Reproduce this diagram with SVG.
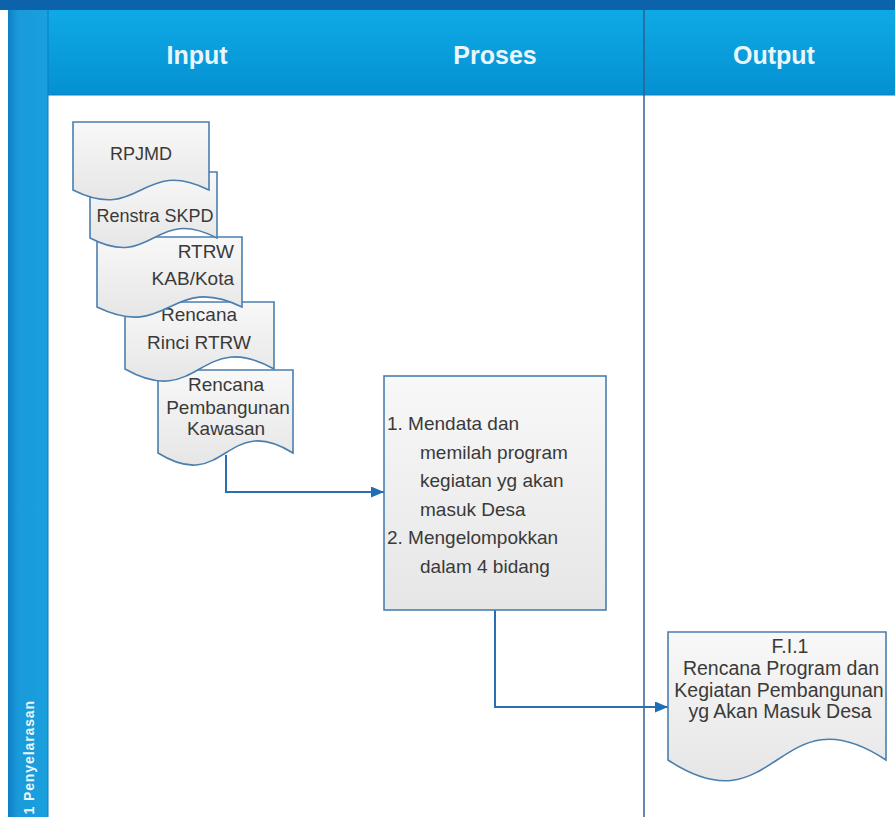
<svg xmlns="http://www.w3.org/2000/svg" width="895" height="817" viewBox="0 0 895 817">
  <defs>
    <linearGradient id="hdr" x1="0" y1="0" x2="0" y2="1">
      <stop offset="0" stop-color="#0eaae6"/>
      <stop offset="1" stop-color="#0590d2"/>
    </linearGradient>
    <linearGradient id="band" x1="0" y1="0" x2="1" y2="0">
      <stop offset="0" stop-color="#0f7fc4"/>
      <stop offset="0.25" stop-color="#1a9ada"/>
      <stop offset="1" stop-color="#1aa0de"/>
    </linearGradient>
    <linearGradient id="paper" x1="0" y1="0" x2="0" y2="1">
      <stop offset="0" stop-color="#f8f8f8"/>
      <stop offset="1" stop-color="#e6e6e6"/>
    </linearGradient>
    <marker id="arrow" markerUnits="userSpaceOnUse" markerWidth="13" markerHeight="11" refX="13" refY="5.5" orient="auto">
      <path d="M0,0 L13,5.5 L0,11 Z" fill="#1f6db3"/>
    </marker>
    <style>
      .shape { fill: url(#paper); stroke: #4b7fae; stroke-width: 1.6; }
      .txt { font-family: "Liberation Sans", Arial, sans-serif; fill: #3a3a3a; }
      .hd { font-family: "Liberation Sans", Arial, sans-serif; font-weight: bold; font-size: 25px; fill: #e9f6fc; text-anchor: middle; }
      .conn { fill: none; stroke: #2a6fb0; stroke-width: 2; }
    </style>
  </defs>

  <!-- swimlane frame -->
  <g id="frame">
    <rect x="0" y="0" width="895" height="817" fill="#ffffff"/>
    <rect x="0" y="0" width="895" height="10" fill="#0c62ab"/>
    <rect x="48" y="10" width="847" height="85" fill="url(#hdr)"/>
    <line x1="48" y1="95" x2="895" y2="95" stroke="#0a80c2" stroke-width="1"/>
    <rect x="8" y="10" width="40" height="807" fill="url(#band)"/>
    <line x1="48" y1="10" x2="48" y2="817" stroke="#0b7cc0" stroke-width="1"/>
    <line x1="644" y1="10" x2="644" y2="817" stroke="#2f5f92" stroke-width="1.5"/>
    <text class="hd" x="197" y="64">Input</text>
    <text class="hd" x="495" y="64">Proses</text>
    <text class="hd" x="774" y="64">Output</text>
    <text transform="translate(34,700) rotate(-90)" text-anchor="end" font-family="Liberation Sans, Arial, sans-serif" font-weight="bold" font-size="14" letter-spacing="0.9" fill="#e9f6fc">1 Penyelarasan</text>
  </g>

  <!-- connectors -->
  <g id="connectors">
    <path class="conn" d="M226,455 V492 H384" marker-end="url(#arrow)"/>
    <path class="conn" d="M495,610 V707 H668" marker-end="url(#arrow)"/>
  </g>

  <!-- input documents, stacked: lower ones first -->
  <g id="doc-kawasan">
    <path class="shape" d="M158,370 H293 V453 C225.5,411 225.5,495 158,453 Z"/>
    <text class="txt" font-size="19" text-anchor="middle" x="226" y="391">Rencana</text>
    <text class="txt" font-size="19" text-anchor="middle" x="228" y="414">Pembangunan</text>
    <text class="txt" font-size="19" text-anchor="middle" x="226" y="435">Kawasan</text>
  </g>
  <g id="doc-rinci">
    <path class="shape" d="M125,302 H274 V369 C199.5,327 199.5,411 125,369 Z"/>
    <text class="txt" font-size="19" text-anchor="middle" x="199" y="321">Rencana</text>
    <text class="txt" font-size="19" text-anchor="middle" x="199" y="349">Rinci RTRW</text>
  </g>
  <g id="doc-rtrw">
    <path class="shape" d="M97,237 H242 V307 C169.5,272 169.5,342 97,307 Z"/>
    <text class="txt" font-size="19" text-anchor="end" x="234" y="258">RTRW</text>
    <text class="txt" font-size="19" text-anchor="end" x="234" y="285">KAB/Kota</text>
  </g>
  <g id="doc-renstra">
    <path class="shape" d="M90,172 H217 V238 C153.5,205 153.5,271 90,238 Z"/>
    <text class="txt" font-size="18" text-anchor="middle" x="155" y="222">Renstra SKPD</text>
  </g>
  <g id="doc-rpjmd">
    <path class="shape" d="M73,122 H209 V190 C141,156 141,224 73,190 Z"/>
    <text class="txt" font-size="18" text-anchor="middle" x="141" y="160">RPJMD</text>
  </g>

  <!-- process -->
  <g id="proc-mendata">
    <rect class="shape" x="384" y="376" width="222" height="234"/>
    <g class="txt" font-size="19">
      <text x="387" y="430">1. Mendata dan</text>
      <text x="420" y="458.5">memilah program</text>
      <text x="420" y="487">kegiatan yg akan</text>
      <text x="420" y="515.5">masuk Desa</text>
      <text x="387" y="544">2. Mengelompokkan</text>
      <text x="420" y="572.5">dalam 4 bidang</text>
    </g>
  </g>

  <!-- output document -->
  <g id="doc-output">
    <path class="shape" d="M668,632 H886 V760 C777,688 777,832 668,760 Z"/>
    <g class="txt" font-size="19.5" text-anchor="middle">
      <text x="790" y="653">F.I.1</text>
      <text x="781" y="675">Rencana Program dan</text>
      <text x="779" y="697">Kegiatan Pembangunan</text>
      <text x="780" y="718">yg Akan Masuk Desa</text>
    </g>
  </g>
</svg>
